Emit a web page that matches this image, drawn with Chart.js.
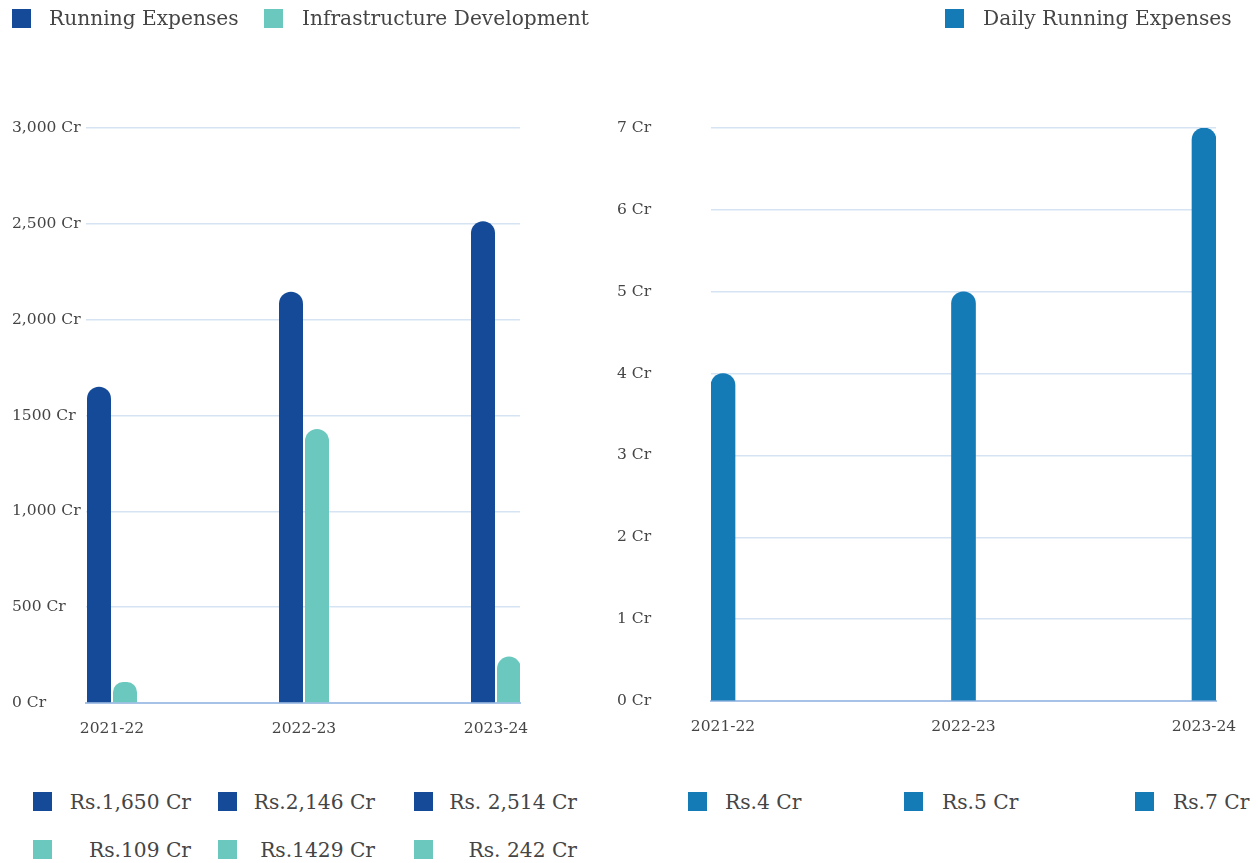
<!DOCTYPE html>
<html>
<head>
<meta charset="utf-8">
<script src="https://cdn.jsdelivr.net/npm/chart.js@4.4.1/dist/chart.umd.min.js"></script>
<style>
  html, body { margin: 0; padding: 0; background: #fff; }
  body { width: 1258px; height: 863px; position: relative; overflow: hidden; font-family: "DejaVu Serif", serif; color: #454545; }
  .sq { position: absolute; width: 19px; height: 19px; }
  .lbl { position: absolute; font-size: 20.2px; line-height: 24px; white-space: nowrap; color: #454545; }
  canvas { position: absolute; }
</style>
</head>
<body>
<canvas id="left" width="560" height="745" style="left:0;top:0;"></canvas>
<canvas id="right" width="658" height="743" style="left:600px;top:0;"></canvas>
<div id="legends"></div>
<script>
// ---- data ----
const categories = ['2021-22', '2022-23', '2023-24'];
const runningExpenses = [1650, 2146, 2514];
const infraDevelopment = [109, 1429, 242];
const dailyRunningExpenses = [4, 5, 7];
const leftTickLabels = ['0 Cr', '500 Cr', '1,000 Cr', '1500 Cr', '2,000 Cr', '2,500 Cr', '3,000 Cr'];
const rightTickLabels = ['0 Cr', '1 Cr', '2 Cr', '3 Cr', '4 Cr', '5 Cr', '6 Cr', '7 Cr'];
const runningLabels = ['Rs.1,650 Cr', 'Rs.2,146 Cr', 'Rs. 2,514 Cr'];
const infraLabels = ['Rs.109 Cr', 'Rs.1429 Cr', 'Rs. 242 Cr'];
const dailyLabels = ['Rs.4 Cr', 'Rs.5 Cr', 'Rs.7 Cr'];
const seriesNames = ['Running Expenses', 'Infrastructure Development', 'Daily Running Expenses'];

// ---- styles ----
const C_RUN = '#144a97';
const C_INFRA = '#6bc8bf';
const C_DAILY = '#147bb6';
const GRID = '#d5e3f3';
const AXIS = '#a6c2e6';
const TXT = '#454545';
const FONT = { family: '"DejaVu Serif", serif', size: 15.5 };

function pts(arr) { return arr.map((v, i) => ({ x: i, y: v })); }

function xScale(min, max) {
  return {
    type: 'linear', min: min, max: max, offset: false,
    grid: { display: false, drawTicks: false, offset: false },
    border: { display: true, color: AXIS, width: 2 },
    ticks: {
      stepSize: 1, includeBounds: false, autoSkip: false, maxRotation: 0,
      padding: 17, color: TXT, font: FONT,
      callback: v => Number.isInteger(v) ? categories[v] : ''
    },
    afterFit: s => { s.height = 42; }
  };
}
function yScale(max, step, labels, width) {
  return {
    min: 0, max: max,
    grid: { color: GRID, lineWidth: 1.5, drawTicks: false },
    border: { display: false },
    ticks: {
      stepSize: step, padding: 6, crossAlign: 'far', color: TXT, font: FONT,
      callback: v => labels[Math.round(v / step)]
    },
    afterFit: s => { s.width = width; }
  };
}
const common = {
  responsive: false, devicePixelRatio: 1, animation: false,
  plugins: { legend: { display: false }, tooltip: { enabled: false } }
};

new Chart(document.getElementById('left'), {
  type: 'bar',
  data: {
    datasets: [
      { label: seriesNames[0], data: pts(runningExpenses), backgroundColor: C_RUN,
        borderRadius: { topLeft: 12, topRight: 12 }, borderSkipped: 'start' },
      { label: seriesNames[1], data: pts(infraDevelopment), backgroundColor: C_INFRA,
        borderRadius: { topLeft: 12, topRight: 12 }, borderSkipped: 'start' }
    ]
  },
  options: Object.assign({}, common, {
    layout: { padding: { top: 128, left: 12, right: 40, bottom: 0 } },
    datasets: { bar: { categoryPercentage: 52 / 192, barPercentage: 24 / 26 } },
    scales: { x: xScale(-26 / 192, 2 + 24 / 192), y: yScale(3000, 500, leftTickLabels, 74) }
  })
});

new Chart(document.getElementById('right'), {
  type: 'bar',
  data: {
    datasets: [
      { label: seriesNames[2], data: pts(dailyRunningExpenses), backgroundColor: C_DAILY,
        barThickness: 24, borderRadius: { topLeft: 12, topRight: 12 }, borderSkipped: 'start' }
    ]
  },
  options: Object.assign({}, common, {
    layout: { padding: { top: 128, left: 17, right: 42, bottom: 0 } },
    scales: { x: xScale(-12 / 240.5, 2 + 12 / 240.5), y: yScale(7, 1, rightTickLabels, 94) }
  })
});

// ---- HTML legends ----
const L = document.getElementById('legends');
function sq(x, y, c) { const d = document.createElement('div'); d.className = 'sq'; d.style.left = x + 'px'; d.style.top = y + 'px'; d.style.background = c; L.appendChild(d); }
function txt(x, y, t, alignRight) {
  const d = document.createElement('div'); d.className = 'lbl'; d.textContent = t; d.style.top = y + 'px';
  if (alignRight) { d.style.right = (1258 - x) + 'px'; d.style.textAlign = 'right'; } else { d.style.left = x + 'px'; }
  L.appendChild(d);
}
// top legends
sq(12, 9, C_RUN); txt(49, 6, seriesNames[0]);
sq(264, 9, C_INFRA); txt(302, 6, seriesNames[1]);
sq(945, 9, C_DAILY); txt(983, 6, seriesNames[2]);
// bottom legends
const leftSq = [33, 218, 414], leftEnd = [191, 375, 577];
runningLabels.forEach((t, i) => { sq(leftSq[i], 792, C_RUN); txt(leftEnd[i], 790, t, true); });
infraLabels.forEach((t, i) => { sq(leftSq[i], 840, C_INFRA); txt(leftEnd[i], 838, t, true); });
const rightSq = [688, 904, 1135], rightTxt = [725, 942, 1173];
dailyLabels.forEach((t, i) => { sq(rightSq[i], 792, C_DAILY); txt(rightTxt[i], 790, t); });
</script>
</body>
</html>
